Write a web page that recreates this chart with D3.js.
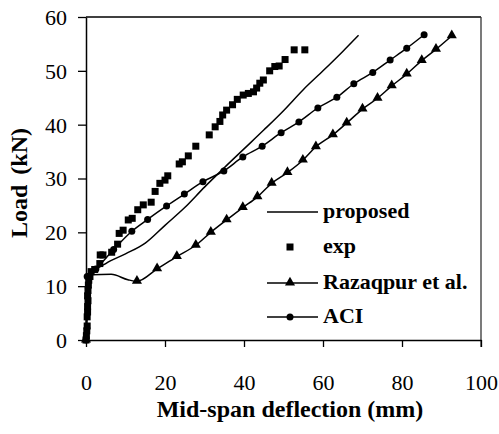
<!DOCTYPE html>
<meta charset="utf-8">
<script src="https://d3js.org/d3.v7.js"></script>
<style>
  body { margin: 0; background: #fff; }
  text { font-family: "Liberation Serif", "Times New Roman", serif; fill: #000; }
</style>
<div id="chart"></div>
<script>

// ---- data (deflection in mm, load in kN) ----
const propDefl = [0, 0.4, 0.8, 2, 5, 10, 15, 20, 25, 30, 35, 40, 45, 50, 55, 60, 65, 69];
const propLoad = [0, 6, 11, 12.6, 14.2, 16, 18, 21.3, 24.6, 28.4, 32, 35.5, 39, 42.6, 46.5, 50, 53.6, 56.6];

const expDefl = [0, 0.1, 0.2, 0.3, 0.3, 0.4, 0.4, 0.5, 0.4, 0.5, 0.6, 0.7, 1.0, 1.3, 2.2, 3.5, 3.6, 4.3,
  6.5, 8.0, 8.4, 9.4, 10.7, 11.7, 13.1, 14.5, 16.5, 17.5, 18.7, 20.0, 20.7, 23.6, 24.4, 25.9, 27.8,
  31.2, 32.7, 33.9, 34.6, 35.6, 37.1, 38.3, 39.8, 41.1, 42.4, 43.2, 44.0, 44.9, 46.5, 47.8, 48.9,
  50.4, 52.7, 55.4];
const expLoad = [0, 0.8, 1.7, 2.6, 4.3, 5.2, 6.2, 7.3, 8.2, 9.2, 10.2, 11.1, 11.8, 12.7, 13.1, 14.2, 15.8, 15.8,
  16.3, 17.8, 19.8, 20.4, 22.3, 22.6, 24.2, 25.1, 25.6, 27.6, 29.1, 29.7, 30.5, 32.7, 33.1, 34.2, 36.0,
  38.1, 39.6, 40.6, 41.8, 42.7, 43.7, 44.7, 45.5, 45.8, 46.1, 46.8, 47.7, 48.3, 50.0, 50.8, 50.9,
  52.1, 53.9, 53.9];

const razDefl = [0, 0.5, 1.3, 6.4, 10.6, 12.9, 18, 23, 27.8, 31.6, 35.6, 39.7, 43.4, 47, 51, 54.9,
  58.2, 62.5, 66, 70, 73.8, 77.4, 81.2, 85, 88.6, 92.6];
const razLoad = [0, 11.5, 12.1, 12.2, 11.2, 10.9, 13.2, 15.5, 17.6, 20, 22.3, 24.6, 26.6, 29.1, 31.1, 33.4,
  35.9, 38.1, 40.3, 42.9, 44.9, 47.2, 49.4, 51.9, 54, 56.5];

const aciDefl = [0, 0.3, 2.5, 7, 11.6, 15.6, 20.4, 24.9, 29.6, 34.9, 39.7, 44.6, 49.4, 53.9, 58.7,
  63.5, 67.8, 72.6, 77, 81.2, 85.6];
const aciLoad = [0, 11.8, 13.2, 16.8, 20.2, 22.4, 24.9, 27.1, 29.4, 31.4, 34.0, 36.0, 38.5, 40.5, 43.1,
  45.1, 47.6, 49.7, 52, 54.2, 56.7];

const xTicks = [0, 20, 40, 60, 80, 100];
const yTicks = [0, 10, 20, 30, 40, 50, 60];
const legendLabels = ["proposed", "exp", "Razaqpur et al.", "ACI"];

// ---- layout ----
const W = 499, H = 434;
const plot = {left: 86, right: 481, top: 17, bottom: 340};

const x = d3.scaleLinear().domain([0, 100]).range([plot.left, plot.right]);
const y = d3.scaleLinear().domain([0, 60]).range([plot.bottom, plot.top]);

const svg = d3.select("#chart").append("svg")
  .attr("width", W).attr("height", H);

const pts = (xs, ys) => xs.map((d, i) => [d, ys[i]]);
const line = d3.line().x(d => x(d[0])).y(d => y(d[1])).curve(d3.curveMonotoneX);

// frame: top and right edges
svg.append("line").attr("x1", plot.left).attr("x2", plot.right).attr("y1", plot.top).attr("y2", plot.top)
  .attr("stroke", "#000").attr("stroke-width", 1.5);
svg.append("line").attr("x1", plot.right).attr("x2", plot.right).attr("y1", plot.top).attr("y2", plot.bottom + 7)
  .attr("stroke", "#333").attr("stroke-width", 1.3);

// axes
const xAxis = svg.append("g").attr("transform", `translate(0,${plot.bottom})`)
  .call(d3.axisBottom(x).tickValues(xTicks).tickSize(7).tickSizeOuter(0));
const yAxis = svg.append("g").attr("transform", `translate(${plot.left},0)`)
  .call(d3.axisLeft(y).tickValues(yTicks).tickSize(8).tickSizeOuter(0));

[xAxis, yAxis].forEach(a => {
  a.select(".domain").attr("stroke", "#000").attr("stroke-width", 1.5);
  a.selectAll(".tick line").attr("stroke", "#000").attr("stroke-width", 1.3);
  a.selectAll(".tick text").attr("font-size", 22).attr("fill", "#000")
    .style("font-family", '"Liberation Serif", serif');
});
xAxis.selectAll(".tick text").attr("y", 50).attr("dy", 0);
yAxis.selectAll(".tick text").attr("x", -19).attr("dy", "0.34em");

// axis titles
svg.append("text")
  .attr("transform", `translate(290,417)`)
  .attr("text-anchor", "middle").attr("font-size", 24).attr("font-weight", "bold")
  .text("Mid-span deflection (mm)");
svg.append("text")
  .attr("transform", `translate(27,183) rotate(-90)`)
  .attr("text-anchor", "middle").attr("font-size", 24).attr("font-weight", "bold")
  .attr("word-spacing", 4)
  .text("Load (kN)");

// series lines
const series = [
  pts(propDefl, propLoad),
  pts(razDefl, razLoad),
  pts(aciDefl, aciLoad)
];
svg.selectAll("path.series").data(series).join("path")
  .attr("class", "series")
  .attr("d", line)
  .attr("fill", "none").attr("stroke", "#000").attr("stroke-width", 1.5);

// markers
const tri = d3.symbol().type(d3.symbolTriangle).size(44);
svg.append("g").selectAll("path")
  .data(pts(razDefl, razLoad).filter(d => d[0] === 0 || d[0] >= 12))
  .join("path")
  .attr("d", tri)
  .attr("transform", d => `translate(${x(d[0])},${y(d[1]) - 0.5})`)
  .attr("fill", "#000");

svg.append("g").selectAll("circle")
  .data(pts(aciDefl, aciLoad))
  .join("circle")
  .attr("cx", d => x(d[0])).attr("cy", d => y(d[1])).attr("r", 3.5)
  .attr("fill", "#000");

svg.append("g").selectAll("rect")
  .data(pts(expDefl, expLoad))
  .join("rect")
  .attr("x", d => x(d[0]) - 3.5).attr("y", d => y(d[1]) - 3.5)
  .attr("width", 7).attr("height", 7)
  .attr("fill", "#000");

// legend
const legY = [212, 247, 283, 317];
const lx1 = 267, lx2 = 318, lmid = 290;
const leg = svg.append("g");
legendLabels.forEach((name, i) => {
  const cy = legY[i];
  if (i !== 1) {
    leg.append("line").attr("x1", lx1).attr("x2", lx2).attr("y1", cy).attr("y2", cy)
      .attr("stroke", "#000").attr("stroke-width", 1.5);
  }
  if (i === 1) {
    leg.append("rect").attr("x", lmid - 3.5).attr("y", cy - 3.5).attr("width", 7).attr("height", 7);
  } else if (i === 2) {
    leg.append("path").attr("d", tri).attr("transform", `translate(${lmid},${cy - 0.5})`);
  } else if (i === 3) {
    leg.append("circle").attr("cx", lmid).attr("cy", cy).attr("r", 3.5);
  }
  leg.append("text")
    .attr("x", 323).attr("y", cy + 5.5)
    .attr("font-size", 22).attr("font-weight", "bold")
    .text(name);
});

</script>
